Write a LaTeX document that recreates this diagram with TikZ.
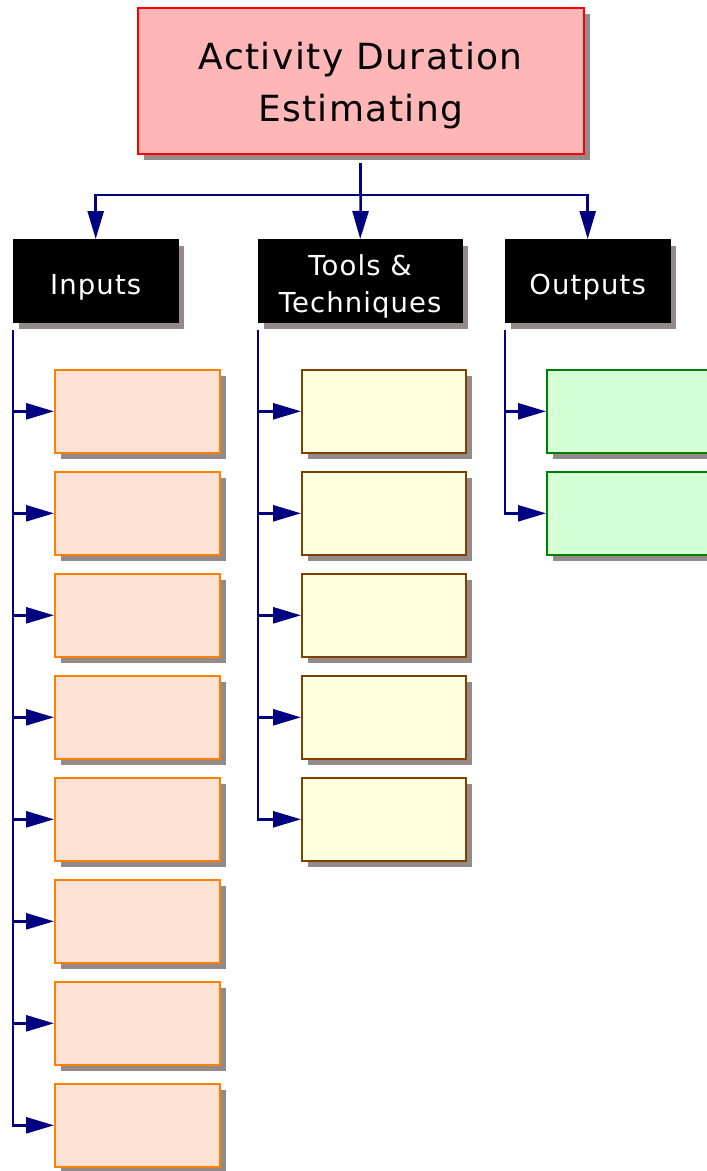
\documentclass[tikz,border=0pt]{standalone}
\usepackage{fontspec}
\setmainfont{DejaVu Sans}[LetterSpace=4]
\usetikzlibrary{shadows,arrows.meta}
\definecolor{topfill}{HTML}{FFB6B6}
\definecolor{topdraw}{HTML}{FF0000}
\definecolor{infill}{HTML}{FFE2D6}
\definecolor{indraw}{HTML}{FF8000}
\definecolor{toolfill}{HTML}{FFFFE0}
\definecolor{tooldraw}{HTML}{804000}
\definecolor{outfill}{HTML}{D5FFD5}
\definecolor{outdraw}{HTML}{008000}
\definecolor{shadowgray}{HTML}{948A8A}
\definecolor{connblue}{HTML}{000080}
\tikzset{
  shad/.style={drop shadow={shadow xshift=6pt,shadow yshift=-6.5pt,fill=shadowgray,opacity=1}},
  basebox/.style={rectangle,anchor=north west,inner sep=0pt,shad},
  topbox/.style={basebox,fill=topfill,draw=topdraw,line width=1.5pt,minimum width=446pt,minimum height=146pt,
    align=center,font=\fontsize{36}{52}\selectfont},
  headbox/.style={basebox,fill=black,draw=black,text=white,minimum height=83pt,align=center,
    font=\fontsize{27.5}{37}\selectfont},
  inbox/.style={basebox,fill=infill,draw=indraw,line width=1.6pt,minimum width=165pt,minimum height=83pt},
  toolbox/.style={basebox,fill=toolfill,draw=tooldraw,line width=1.6pt,minimum width=164pt,minimum height=83pt},
  outbox/.style={basebox,fill=outfill,draw=outdraw,line width=1.6pt,minimum width=170pt,minimum height=83pt},
  conn/.style={draw=connblue,line width=2.6pt},
  arr/.style={conn,-{Triangle[length=28pt,width=16pt]},color=connblue},
}
\begin{document}
\begin{tikzpicture}[x=1pt,y=-1pt]
\useasboundingbox (0,0) rectangle (707,1171);
\node[topbox] (top) at (137,7) {\rule{0pt}{37pt}Activity Duration\\Estimating};
\node[headbox,minimum width=165pt] (inputs) at (13,239) {\rule{0pt}{33pt}Inputs};
\node[headbox,minimum width=204pt] (tools) at (258,239) {\rule{0pt}{33pt}Tools \&\\Techniques};
\node[headbox,minimum width=165pt] (outputs) at (505,239) {\rule{0pt}{33pt}Outputs};
\foreach \i in {1,...,8} {
  \node[inbox] (in\i) at (54,{369+102*(\i-1)}) {};
}
\foreach \i in {1,...,5} {
  \node[toolbox] (tl\i) at (301,{369+102*(\i-1)}) {};
}
\foreach \i in {1,2} {
  \node[outbox] (out\i) at (546,{369+102*(\i-1)}) {};
}
\coordinate (hub) at (top.south |- 0,195);
\draw[conn] ([yshift=-8pt]top.south) -- (hub);
\draw[arr] (hub) -| (inputs.north);
\draw[arr] (hub) -- (tools.north);
\draw[arr] (hub) -| (outputs.north);
% inputs
\draw[arr] ([yshift=-8pt]inputs.south west) |- (in8.west);
\foreach \i in {1,...,7} { \draw[arr] (inputs.south west |- in\i.west) -- (in\i.west); }
% tools
\draw[arr] ([yshift=-8pt]tools.south west) |- (tl5.west);
\foreach \i in {1,...,4} { \draw[arr] (tools.south west |- tl\i.west) -- (tl\i.west); }
% outputs
\draw[arr] ([yshift=-8pt]outputs.south west) |- (out2.west);
\draw[arr] (outputs.south west |- out1.west) -- (out1.west);
\end{tikzpicture}
\end{document}
